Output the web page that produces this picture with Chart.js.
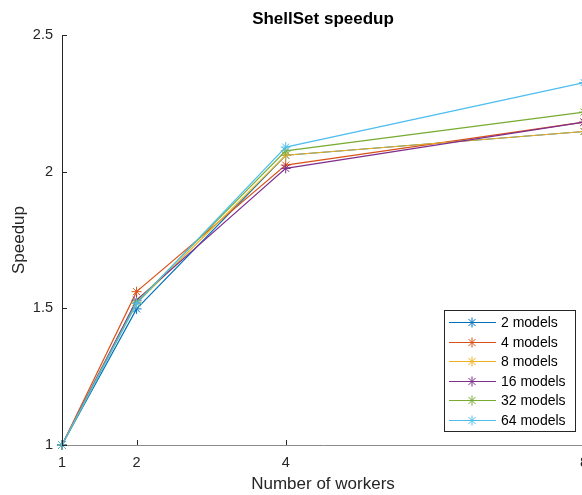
<!DOCTYPE html>
<html>
<head>
<meta charset="utf-8">
<script src="https://cdn.jsdelivr.net/npm/chart.js@4.4.1/dist/chart.umd.min.js"></script>
<style>
  html, body { margin: 0; padding: 0; background: #fff; overflow: hidden; }
  #wrap { width: 600px; height: 495px; }
</style>
</head>
<body>
<div id="wrap"><canvas id="speedup-chart" width="600" height="495"></canvas></div>
<script>
// data
const workers = [1, 2, 4, 8];
const seriesNames = ["2 models", "4 models", "8 models", "16 models", "32 models", "64 models"];
const speedup2 = [1, 1.498, 2.060, 2.147];
const speedup4 = [1, 1.561, 2.024, 2.181];
const speedup8 = [1, 1.518, 2.060, 2.147];
const speedup16 = [1, 1.530, 2.012, 2.181];
const speedup32 = [1, 1.523, 2.076, 2.218];
const speedup64 = [1, 1.518, 2.090, 2.326];
const seriesColors = ["#0072BD", "#D95319", "#EDB120", "#7E2F8E", "#77AC30", "#4DBEEE"];
const xTicks = [1, 2, 4, 8];
const yTicks = [1, 1.5, 2, 2.5];

const FONT = "'Liberation Sans', Arial, Helvetica, sans-serif";
const TEXT = "#262626";

const allSeries = [speedup2, speedup4, speedup8, speedup16, speedup32, speedup64];

const datasets = allSeries.map((vals, i) => ({
  label: seriesNames[i],
  data: workers.map((w, j) => ({ x: w, y: vals[j] })),
  borderColor: seriesColors[i],
  backgroundColor: seriesColors[i],
  borderWidth: 1.2,
  pointStyle: "star",
  pointRadius: 5,
  pointBorderWidth: 1,
  pointHoverRadius: 5,
  tension: 0,
  clip: false,
  order: -i, // later series on top, like matlab
}));

function drawStar(ctx, x, y, r) {
  ctx.beginPath();
  ctx.moveTo(x - r, y); ctx.lineTo(x + r, y);
  ctx.moveTo(x, y - r); ctx.lineTo(x, y + r);
  const d = r * Math.SQRT1_2;
  ctx.moveTo(x - d, y - d); ctx.lineTo(x + d, y + d);
  ctx.moveTo(x - d, y + d); ctx.lineTo(x + d, y - d);
  ctx.stroke();
}

// title centred over the axes
const axesTitle = {
  id: "axesTitle",
  afterDraw(chart) {
    const { ctx, chartArea } = chart;
    ctx.save();
    ctx.font = "bold 17px " + FONT;
    ctx.fillStyle = "#000";
    ctx.textAlign = "center";
    ctx.textBaseline = "middle";
    ctx.fillText("ShellSet speedup", (chartArea.left + chartArea.right) / 2, chartArea.top - 16);
    ctx.restore();
  },
};

// matlab style ticks pointing into the axes
const innerTicks = {
  id: "innerTicks",
  afterDraw(chart) {
    const { ctx, chartArea, scales } = chart;
    ctx.save();
    ctx.lineWidth = 1;
    ctx.strokeStyle = TEXT;
    scales.y.ticks.forEach((t) => {
      const py = Math.round(scales.y.getPixelForValue(t.value)) + 0.5;
      ctx.beginPath();
      ctx.moveTo(chartArea.left, py);
      ctx.lineTo(chartArea.left + 5, py);
      ctx.stroke();
    });
    scales.x.ticks.forEach((t) => {
      const px = Math.round(scales.x.getPixelForValue(t.value)) + 0.5;
      ctx.beginPath();
      ctx.moveTo(px, chartArea.bottom);
      ctx.lineTo(px, chartArea.bottom - 5);
      ctx.stroke();
    });
    ctx.restore();
  },
};

// boxed legend in the lower right corner of the axes
const boxLegend = {
  id: "boxLegend",
  afterDraw(chart) {
    const { ctx, chartArea } = chart;
    const w = 131, h = 121, rowH = 19.5;
    const right = chartArea.right - 9;
    const bottom = chartArea.bottom - 14;
    const left = right - w, top = bottom - h;
    ctx.save();
    ctx.fillStyle = "#fff";
    ctx.fillRect(left, top, w, h);
    ctx.strokeStyle = TEXT;
    ctx.lineWidth = 1;
    ctx.strokeRect(Math.round(left) + 0.5, Math.round(top) + 0.5, w, h);
    ctx.font = "14px " + FONT;
    ctx.textBaseline = "middle";
    ctx.textAlign = "left";
    chart.data.datasets.forEach((ds, i) => {
      const y = Math.round(top + 12 + i * rowH) + 0.5;
      ctx.strokeStyle = ds.borderColor;
      ctx.lineWidth = 1.2;
      ctx.beginPath();
      ctx.moveTo(left + 5, y);
      ctx.lineTo(left + 52, y);
      ctx.stroke();
      ctx.lineWidth = 1;
      drawStar(ctx, left + 28, y, 5);
      ctx.fillStyle = "#000";
      ctx.fillText(ds.label, left + 57, y + 1);
    });
    ctx.restore();
  },
};

new Chart(document.getElementById("speedup-chart"), {
  type: "line",
  data: { datasets },
  options: {
    responsive: false,
    devicePixelRatio: 1,
    animation: false,
    layout: { padding: { top: 35, right: 16, left: 0, bottom: 0 } },
    plugins: {
      legend: { display: false },
      tooltip: { enabled: false },
      title: { display: false },
    },
    scales: {
      x: {
        type: "linear",
        min: 1,
        max: 8,
        afterBuildTicks: (scale) => { scale.ticks = xTicks.map((v) => ({ value: v })); },
        afterFit: (scale) => { scale.height = 50; },
        grid: { display: false, drawTicks: false },
        border: { display: true, color: "#8c8c8c", width: 1 },
        ticks: {
          color: TEXT,
          font: { family: FONT, size: 14.5 },
          padding: 9,
          maxRotation: 0,
          autoSkip: false,
          callback: (v) => String(v),
        },
        title: {
          display: true,
          text: "Number of workers",
          color: TEXT,
          font: { family: FONT, size: 17 },
          padding: { top: 0, bottom: 0 },
        },
      },
      y: {
        type: "linear",
        min: 1,
        max: 2.5,
        afterBuildTicks: (scale) => { scale.ticks = yTicks.map((v) => ({ value: v })); },
        afterFit: (scale) => { scale.width = 62; },
        grid: { display: false, drawTicks: false },
        border: { display: true, color: TEXT, width: 1 },
        ticks: {
          color: TEXT,
          font: { family: FONT, size: 14.5 },
          padding: 9,
          callback: (v) => String(v),
        },
        title: {
          display: true,
          text: "Speedup",
          color: TEXT,
          font: { family: FONT, size: 17 },
          padding: { top: 9, bottom: 0 },
        },
      },
    },
  },
  plugins: [axesTitle, innerTicks, boxLegend],
});
</script>
</body>
</html>
